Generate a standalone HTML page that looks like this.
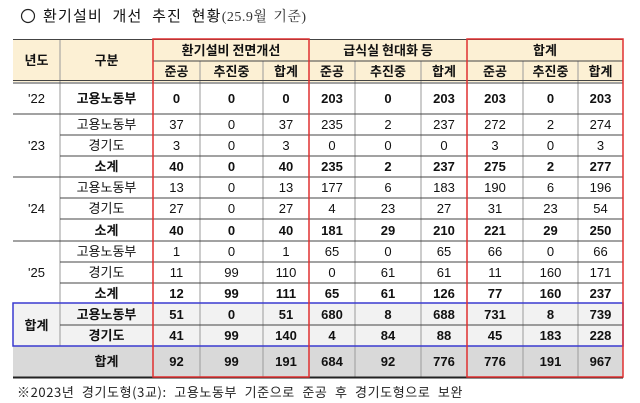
<!DOCTYPE html>
<html><head><meta charset="utf-8"><style>
html,body{margin:0;padding:0;background:#fff;}
svg{display:block;}
text{font-family:"Liberation Sans","Noto Sans CJK KR",sans-serif;font-size:13px;fill:#111;}
.k{font-family:"Noto Sans CJK KR","Liberation Sans",sans-serif;}
.b{font-weight:bold;}
</style></head><body>
<svg width="640" height="403" viewBox="0 0 640 403" xmlns="http://www.w3.org/2000/svg">
<!-- title -->
<circle cx="28" cy="16" r="6.5" fill="none" stroke="#222" stroke-width="1.2"/>
<text x="43" y="21" class="k" style="font-size:15px;letter-spacing:1.2px;word-spacing:5px">환기설비 개선 추진 현황<tspan style="font-family:'Liberation Serif','Noto Serif CJK SC',serif;font-size:14px;fill:#333;letter-spacing:0.5px;word-spacing:2px">(25.9월 기준)</tspan></text>

<!-- fills -->
<rect x="13" y="39" width="610" height="43" fill="#fcf0d4"/>
<rect x="13" y="303" width="610" height="43" fill="#f2f2f2"/>
<rect x="13" y="346" width="610" height="31" fill="#d9d9d9"/>

<g stroke="#9a9a9a" stroke-width="1" fill="none">
<line x1="60" y1="39" x2="60" y2="346"/>
<line x1="153" y1="39" x2="153" y2="377"/>
<line x1="200" y1="61" x2="200" y2="377"/>
<line x1="263" y1="61" x2="263" y2="377"/>
<line x1="355" y1="61" x2="355" y2="377"/>
<line x1="421" y1="61" x2="421" y2="377"/>
<line x1="523" y1="61" x2="523" y2="377"/>
<line x1="578" y1="61" x2="578" y2="377"/>
</g>
<g stroke="#444" stroke-width="1" fill="none">
<line x1="13" y1="39.5" x2="623" y2="39.5"/>
<line x1="153" y1="61" x2="623" y2="61"/>
<line x1="13" y1="80.5" x2="623" y2="80.5"/>
<line x1="13" y1="83" x2="623" y2="83"/>
<line x1="13" y1="114" x2="623" y2="114"/>
<line x1="60" y1="135" x2="623" y2="135"/>
<line x1="60" y1="156" x2="623" y2="156"/>
<line x1="13" y1="177" x2="623" y2="177"/>
<line x1="60" y1="198" x2="623" y2="198"/>
<line x1="60" y1="219" x2="623" y2="219"/>
<line x1="13" y1="241" x2="623" y2="241"/>
<line x1="60" y1="262" x2="623" y2="262"/>
<line x1="60" y1="283" x2="623" y2="283"/>
<line x1="60" y1="325" x2="623" y2="325"/>
<line x1="13" y1="346" x2="623" y2="346"/>
</g>
<line x1="13" y1="377.5" x2="623" y2="377.5" stroke="#222" stroke-width="2"/>
<rect x="13" y="303" width="610" height="43" fill="none" stroke="#3a3ad0" stroke-width="1.5"/>
<rect x="153" y="39" width="156" height="338" fill="none" stroke="#e03030" stroke-width="1.5"/>
<rect x="467" y="39" width="156" height="338" fill="none" stroke="#e03030" stroke-width="1.5"/>

<g class="b" text-anchor="middle">
<text x="36.5" y="65" class="k b">년도</text>
<text x="106.5" y="65" class="k b">구분</text>
<text x="231" y="55" class="k b">환기설비 전면개선</text>
<text x="388" y="55" class="k b">급식실 현대화 등</text>
<text x="545" y="55" class="k b">합계</text>
<text x="176.5" y="76" class="k b">준공</text><text x="231.5" y="76" class="k b">추진중</text><text x="286" y="76" class="k b">합계</text>
<text x="332" y="76" class="k b">준공</text><text x="388" y="76" class="k b">추진중</text><text x="444" y="76" class="k b">합계</text>
<text x="495" y="76" class="k b">준공</text><text x="550.5" y="76" class="k b">추진중</text><text x="600.5" y="76" class="k b">합계</text>
</g>

<g text-anchor="middle">
<text x="36.5" y="103">'22</text>
<text x="36.5" y="150">'23</text>
<text x="36.5" y="213">'24</text>
<text x="36.5" y="277">'25</text>
<text x="36.5" y="330" class="k b">합계</text>
<text x="106.5" y="366" class="k b">합계</text>

<text x="106.5" y="103" class="k b">고용노동부</text>
<text x="106.5" y="129" class="k">고용노동부</text>
<text x="106.5" y="150" class="k">경기도</text>
<text x="106.5" y="171" class="k b">소계</text>
<text x="106.5" y="192" class="k">고용노동부</text>
<text x="106.5" y="213" class="k">경기도</text>
<text x="106.5" y="235" class="k b">소계</text>
<text x="106.5" y="256" class="k">고용노동부</text>
<text x="106.5" y="277" class="k">경기도</text>
<text x="106.5" y="298" class="k b">소계</text>
<text x="106.5" y="319" class="k b">고용노동부</text>
<text x="106.5" y="340" class="k b">경기도</text>
</g>

<g text-anchor="middle">
<g class="b"><text x="176.5" y="103">0</text><text x="231.5" y="103">0</text><text x="286" y="103">0</text><text x="332" y="103">203</text><text x="388" y="103">0</text><text x="444" y="103">203</text><text x="495" y="103">203</text><text x="550.5" y="103">0</text><text x="600.5" y="103">203</text></g>
<g><text x="176.5" y="129">37</text><text x="231.5" y="129">0</text><text x="286" y="129">37</text><text x="332" y="129">235</text><text x="388" y="129">2</text><text x="444" y="129">237</text><text x="495" y="129">272</text><text x="550.5" y="129">2</text><text x="600.5" y="129">274</text></g>
<g><text x="176.5" y="150">3</text><text x="231.5" y="150">0</text><text x="286" y="150">3</text><text x="332" y="150">0</text><text x="388" y="150">0</text><text x="444" y="150">0</text><text x="495" y="150">3</text><text x="550.5" y="150">0</text><text x="600.5" y="150">3</text></g>
<g class="b"><text x="176.5" y="171">40</text><text x="231.5" y="171">0</text><text x="286" y="171">40</text><text x="332" y="171">235</text><text x="388" y="171">2</text><text x="444" y="171">237</text><text x="495" y="171">275</text><text x="550.5" y="171">2</text><text x="600.5" y="171">277</text></g>
<g><text x="176.5" y="192">13</text><text x="231.5" y="192">0</text><text x="286" y="192">13</text><text x="332" y="192">177</text><text x="388" y="192">6</text><text x="444" y="192">183</text><text x="495" y="192">190</text><text x="550.5" y="192">6</text><text x="600.5" y="192">196</text></g>
<g><text x="176.5" y="213">27</text><text x="231.5" y="213">0</text><text x="286" y="213">27</text><text x="332" y="213">4</text><text x="388" y="213">23</text><text x="444" y="213">27</text><text x="495" y="213">31</text><text x="550.5" y="213">23</text><text x="600.5" y="213">54</text></g>
<g class="b"><text x="176.5" y="235">40</text><text x="231.5" y="235">0</text><text x="286" y="235">40</text><text x="332" y="235">181</text><text x="388" y="235">29</text><text x="444" y="235">210</text><text x="495" y="235">221</text><text x="550.5" y="235">29</text><text x="600.5" y="235">250</text></g>
<g><text x="176.5" y="256">1</text><text x="231.5" y="256">0</text><text x="286" y="256">1</text><text x="332" y="256">65</text><text x="388" y="256">0</text><text x="444" y="256">65</text><text x="495" y="256">66</text><text x="550.5" y="256">0</text><text x="600.5" y="256">66</text></g>
<g><text x="176.5" y="277">11</text><text x="231.5" y="277">99</text><text x="286" y="277">110</text><text x="332" y="277">0</text><text x="388" y="277">61</text><text x="444" y="277">61</text><text x="495" y="277">11</text><text x="550.5" y="277">160</text><text x="600.5" y="277">171</text></g>
<g class="b"><text x="176.5" y="298">12</text><text x="231.5" y="298">99</text><text x="286" y="298">111</text><text x="332" y="298">65</text><text x="388" y="298">61</text><text x="444" y="298">126</text><text x="495" y="298">77</text><text x="550.5" y="298">160</text><text x="600.5" y="298">237</text></g>
<g class="b"><text x="176.5" y="319">51</text><text x="231.5" y="319">0</text><text x="286" y="319">51</text><text x="332" y="319">680</text><text x="388" y="319">8</text><text x="444" y="319">688</text><text x="495" y="319">731</text><text x="550.5" y="319">8</text><text x="600.5" y="319">739</text></g>
<g class="b"><text x="176.5" y="340">41</text><text x="231.5" y="340">99</text><text x="286" y="340">140</text><text x="332" y="340">4</text><text x="388" y="340">84</text><text x="444" y="340">88</text><text x="495" y="340">45</text><text x="550.5" y="340">183</text><text x="600.5" y="340">228</text></g>
<g class="b"><text x="176.5" y="366">92</text><text x="231.5" y="366">99</text><text x="286" y="366">191</text><text x="332" y="366">684</text><text x="388" y="366">92</text><text x="444" y="366">776</text><text x="495" y="366">776</text><text x="550.5" y="366">191</text><text x="600.5" y="366">967</text></g>
</g>

<text x="17" y="397" class="k" style="font-size:13px;fill:#222;letter-spacing:0.6px;word-spacing:4px">※2023년 경기도형(3교): 고용노동부 기준으로 준공 후 경기도형으로 보완</text>
</svg>
</body></html>
